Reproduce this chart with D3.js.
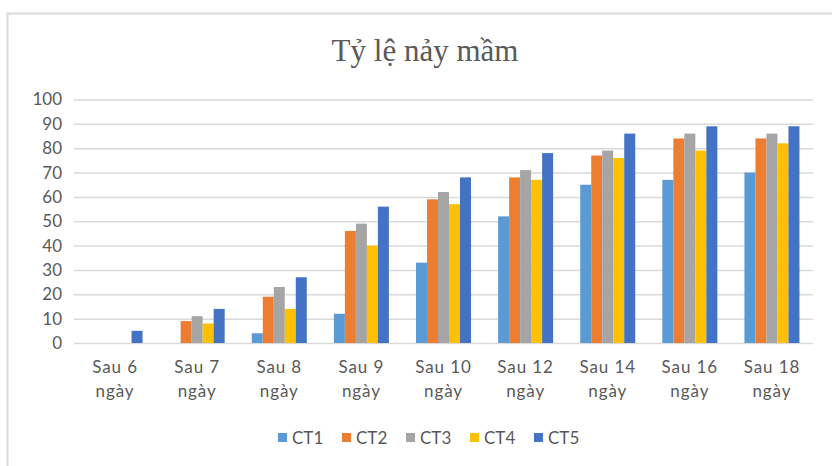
<!DOCTYPE html>
<html>
<head>
<meta charset="utf-8">
<script src="https://d3js.org/d3.v7.min.js"></script>
<style>
  body { margin: 0; background: #fff; }
  text { fill: #595959; }
</style>
</head>
<body>
<svg width="832" height="466"></svg>
<script>
const categories = ['Sau 6 ngày', 'Sau 7 ngày', 'Sau 8 ngày', 'Sau 9 ngày', 'Sau 10 ngày',
                    'Sau 12 ngày', 'Sau 14 ngày', 'Sau 16 ngày', 'Sau 18 ngày'];
const seriesNames = ['CT1', 'CT2', 'CT3', 'CT4', 'CT5'];
const ct1 = [0, 0, 4, 12, 33, 52, 65, 67, 70];
const ct2 = [0, 9, 19, 46, 59, 68, 77, 84, 84];
const ct3 = [0, 11, 23, 49, 62, 71, 79, 86, 86];
const ct4 = [0, 8, 14, 40, 57, 67, 76, 79, 82];
const ct5 = [5, 14, 27, 56, 68, 78, 86, 89, 89];
const yTicks = [0, 10, 20, 30, 40, 50, 60, 70, 80, 90, 100];
const colors = ['#5B9BD5', '#ED7D31', '#A5A5A5', '#FFC000', '#4472C4'];

const values = [ct1, ct2, ct3, ct4, ct5];
const rows = [];
categories.forEach(function (c, i) {
  seriesNames.forEach(function (s, j) {
    rows.push({ cat: c, series: s, value: values[j][i] });
  });
});

const svg = d3.select('svg');
const labelFont = 'Lato, "Open Sans", sans-serif';

// chart border
svg.append('rect')
  .attr('x', 7.5).attr('y', 13.5)
  .attr('width', 900).attr('height', 500)
  .attr('fill', 'none')
  .attr('stroke', '#d9d9d9')
  .attr('stroke-width', 2);

svg.append('text')
  .attr('x', 425).attr('y', 61)
  .attr('text-anchor', 'middle')
  .style('font-family', '"Liberation Serif", "Times New Roman", serif')
  .style('font-size', '31px')
  .text('Tỷ lệ nảy mầm');

const x = d3.scaleBand().domain(categories).range([74, 813])
  .paddingInner(0.33).paddingOuter(0.165);
const xs = d3.scaleBand().domain(seriesNames).range([0, x.bandwidth()]);
const y = d3.scaleLinear().domain([0, 100]).range([343, 99.5]);
const color = d3.scaleOrdinal().domain(seriesNames).range(colors);

// gridlines + y labels
const yAxis = svg.append('g')
  .attr('transform', 'translate(74,0)')
  .call(d3.axisLeft(y).tickValues(yTicks).tickSize(-739).tickPadding(12));
yAxis.select('.domain').remove();
yAxis.selectAll('line').attr('stroke', '#d9d9d9').attr('stroke-width', 1.5);
yAxis.selectAll('text')
  .style('font-family', labelFont)
  .style('font-size', '17px')
  .attr('fill', '#595959');

svg.append('g')
  .selectAll('rect').data(rows).enter().append('rect')
  .attr('x', function (d) { return x(d.cat) + xs(d.series); })
  .attr('y', function (d) { return y(d.value); })
  .attr('width', xs.bandwidth())
  .attr('height', function (d) { return y(0) - y(d.value); })
  .attr('fill', function (d) { return color(d.series); });

// x labels on two lines
const xl = svg.append('g').selectAll('text').data(categories).enter().append('text')
  .attr('text-anchor', 'middle')
  .style('font-family', labelFont)
  .style('font-size', '17px')
  .style('letter-spacing', '0.9px');
xl.append('tspan')
  .attr('x', function (d) { return x(d) + x.bandwidth() / 2; })
  .attr('y', 373)
  .text(function (d) { return d.replace(' ngày', ''); });
xl.append('tspan')
  .attr('x', function (d) { return x(d) + x.bandwidth() / 2; })
  .attr('y', 397)
  .text('ngày');

// legend
const legend = svg.append('g').attr('transform', 'translate(278,0)');
const item = legend.selectAll('g').data(seriesNames).enter().append('g')
  .attr('transform', function (d, i) { return 'translate(' + (i * 64) + ',0)'; });
item.append('rect')
  .attr('y', 433).attr('width', 9).attr('height', 9)
  .attr('fill', function (d) { return color(d); });
item.append('text')
  .attr('x', 14).attr('y', 444)
  .style('font-family', labelFont)
  .style('font-size', '17px')
  .text(function (d) { return d; });
</script>
</body>
</html>
